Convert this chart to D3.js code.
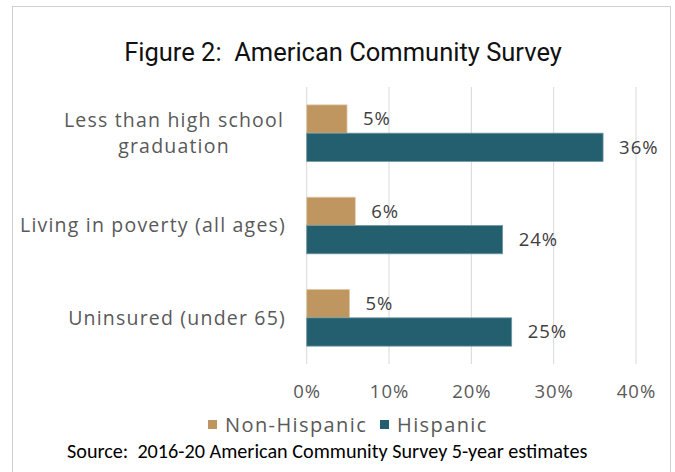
<!DOCTYPE html>
<html lang="en">
    <head>
        <meta charset="utf-8">
        <title>Figure 2</title>
        <script src="https://d3js.org/d3.v7.min.js"></script>
        <style type="text/css">
            body { margin: 0; background: #fff; }
            .cat { font-family: "Open Sans", sans-serif; font-size: 19.5px; letter-spacing: 1.2px; fill: #595959; }
            .tick text { font-family: "Open Sans", sans-serif; font-size: 18.5px; letter-spacing: 1px; fill: #595959; }
            .val { font-family: "Open Sans", sans-serif; font-size: 18.5px; letter-spacing: 1px; fill: #404040; }
            .legend { font-family: "Open Sans", sans-serif; font-size: 20px; letter-spacing: 1.4px; fill: #595959; }
            .pre { white-space: pre; }
        </style>
    </head>
    <body>
        <svg width="675" height="472"></svg>
        <script type="text/javascript">

            // data
            const categories = [["Less than high school", "graduation"], ["Living in poverty (all ages)"], ["Uninsured (under 65)"]];
            const nonHispanic = [4.9, 5.9, 5.2];
            const hispanic = [36, 23.8, 24.9];
            const nonHispanicLabels = ["5%", "6%", "5%"];
            const hispanicLabels = ["36%", "24%", "25%"];
            const xTicks = [0, 10, 20, 30, 40];
            const seriesNames = ["Non-Hispanic", "Hispanic"];
            const colors = ["#BF9560", "#245F6F"];

            const svg = d3.select("svg");

            // outer frame
            svg.append("rect")
               .attr("x", 12.5).attr("y", 6.5)
               .attr("width", 658).attr("height", 480)
               .attr("fill", "none").attr("stroke", "#d0d0d0");

            svg.append("text")
               .attr("class", "pre")
               .attr("x", 343).attr("y", 61)
               .attr("text-anchor", "middle")
               .style("font-family", "Roboto, sans-serif")
               .style("font-size", "25.5px")
               .style("fill", "#111")
               .text("Figure 2:  American Community Survey");

            const xScale = d3.scaleLinear().domain([0, 40]).range([306.7, 636]);
            const yScale = d3.scaleBand()
                             .domain(d3.range(categories.length))
                             .range([87, 364]);
            const barH = 28.3;

            // gridlines
            svg.append("g")
               .selectAll("line")
               .data(xTicks)
               .enter()
               .append("line")
               .attr("x1", d => xScale(d)).attr("x2", d => xScale(d))
               .attr("y1", 87).attr("y2", 364)
               .attr("stroke", "#d9d9d9").attr("stroke-width", 1);

            // axis labels
            const xAxis = d3.axisBottom(xScale).tickValues(xTicks).tickSize(0).tickPadding(21)
                            .tickFormat(d => d + "%");
            const ax = svg.append("g").attr("transform", "translate(0,364)").call(xAxis);
            ax.select(".domain").remove();
            ax.selectAll(".tick text").attr("dy", "0.71em");

            const series = [nonHispanic, hispanic];
            const labels = [nonHispanicLabels, hispanicLabels];

            series.forEach((vals, s) => {
                const g = svg.append("g");
                g.selectAll("rect")
                 .data(vals)
                 .enter()
                 .append("rect")
                 .attr("x", xScale(0))
                 .attr("y", (d, i) => yScale(i) + yScale.bandwidth() / 2 - barH + s * barH)
                 .attr("width", d => xScale(d) - xScale(0))
                 .attr("height", barH)
                 .attr("fill", colors[s])
                 .attr("stroke", s === 0 ? "#e0c9a8" : "#6f98a6")
                 .attr("stroke-width", 0.8);

                g.selectAll("text")
                 .data(vals)
                 .enter()
                 .append("text")
                 .attr("class", "val")
                 .attr("x", d => xScale(d) + 16)
                 .attr("y", (d, i) => yScale(i) + yScale.bandwidth() / 2 - barH + s * barH + barH / 2)
                 .attr("dy", "0.35em")
                 .text((d, i) => labels[s][i]);
            });

            // category labels
            const catG = svg.append("g");
            categories.forEach((lines, i) => {
                const cy = yScale(i) + yScale.bandwidth() / 2;
                const multi = lines.length > 1;
                const t = catG.append("text")
                              .attr("class", "cat")
                              .attr("text-anchor", multi ? "middle" : "end")
                              .attr("y", cy - (lines.length - 1) * 13);
                lines.forEach((ln, j) => {
                    t.append("tspan")
                     .attr("x", multi ? 174 : 286)
                     .attr("dy", j === 0 ? "0.35em" : "26")
                     .text(ln);
                });
            });

            // legend
            const legend = svg.append("g");
            const legX = [208, 380];
            seriesNames.forEach((name, i) => {
                legend.append("rect")
                      .attr("x", legX[i]).attr("y", 420)
                      .attr("width", 9).attr("height", 9)
                      .attr("fill", colors[i]);
                legend.append("text")
                      .attr("class", "legend")
                      .attr("x", legX[i] + 17).attr("y", 425)
                      .attr("dy", "0.35em")
                      .text(name);
            });

            svg.append("text")
               .attr("class", "pre")
               .attr("x", 67).attr("y", 458)
               .style("font-family", "Carlito, Calibri, 'Liberation Sans', sans-serif")
               .style("font-size", "20.2px")
               .style("fill", "#000")
               .text("Source:  2016-20 American Community Survey 5-year estimates");

        </script>
    </body>
</html>
